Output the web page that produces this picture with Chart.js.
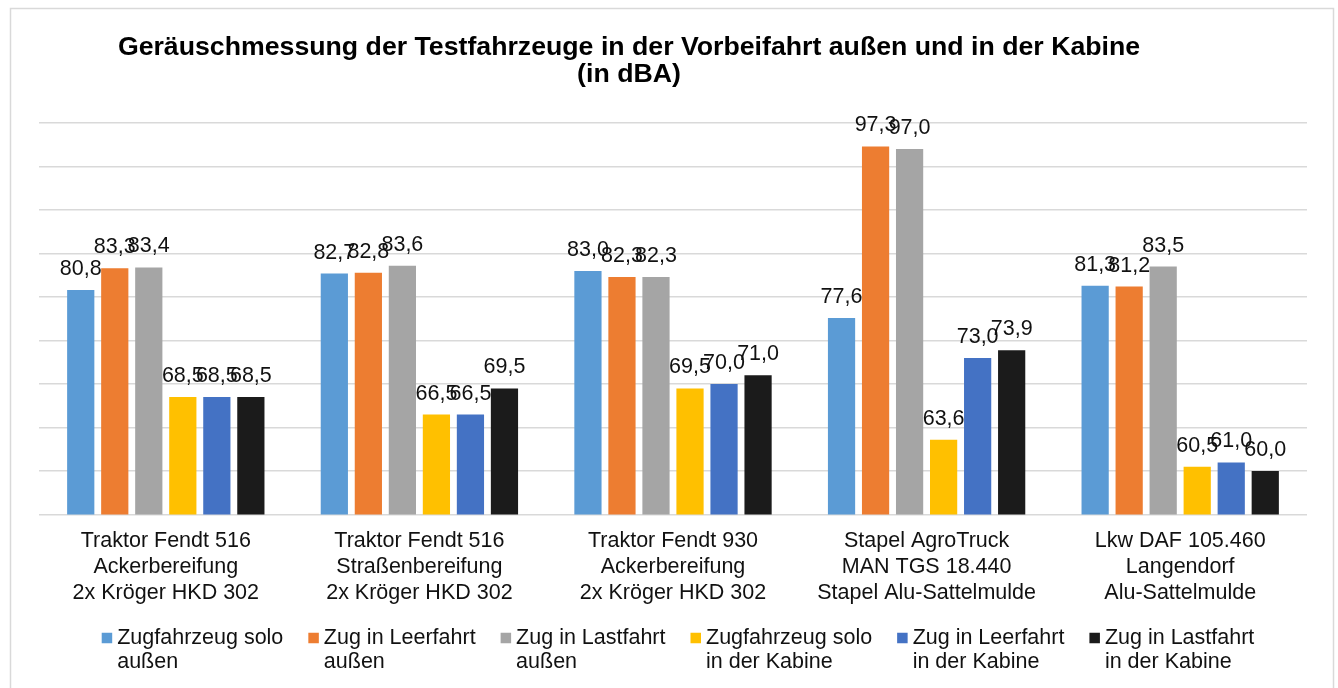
<!DOCTYPE html>
<html>
<head>
<meta charset="utf-8">
<script src="https://cdn.jsdelivr.net/npm/chart.js@4.4.0/dist/chart.umd.min.js"></script>
<style>
html, body { margin: 0; padding: 0; background: #fff; }
#wrap { position: relative; width: 1338px; height: 688px; }
</style>
</head>
<body>
<div id="wrap"><canvas id="myChart"></canvas></div>
<script>
// categories (3-line axis labels)
var categories = [
    ["Traktor Fendt 516", "Ackerbereifung", "2x Kröger HKD 302"],
    ["Traktor Fendt 516", "Straßenbereifung", "2x Kröger HKD 302"],
    ["Traktor Fendt 930", "Ackerbereifung", "2x Kröger HKD 302"],
    ["Stapel AgroTruck", "MAN TGS 18.440", "Stapel Alu-Sattelmulde"],
    ["Lkw DAF 105.460", "Langendorf", "Alu-Sattelmulde"]
];

var seriesNames = [
    ["Zugfahrzeug solo", "außen"],
    ["Zug in Leerfahrt", "außen"],
    ["Zug in Lastfahrt", "außen"],
    ["Zugfahrzeug solo", "in der Kabine"],
    ["Zug in Leerfahrt", "in der Kabine"],
    ["Zug in Lastfahrt", "in der Kabine"]
];

var soloAussen = [80.8, 82.7, 83.0, 77.6, 81.3];
var leerAussen = [83.3, 82.8, 82.3, 97.3, 81.2];
var lastAussen = [83.4, 83.6, 82.3, 97.0, 83.5];
var soloKabine = [68.5, 66.5, 69.5, 63.6, 60.5];
var leerKabine = [68.5, 66.5, 70.0, 73.0, 61.0];
var lastKabine = [68.5, 69.5, 71.0, 73.9, 60.0];

var colors = ['#5B9BD5', '#ED7D31', '#A5A5A5', '#FFC000', '#4472C4', '#1B1B1B'];

var titleLines = ["Geräuschmessung der Testfahrzeuge in der Vorbeifahrt außen und in der Kabine", "(in dBA)"];

var fontFamily = "'Liberation Sans', Arial, sans-serif";
var textColor = '#111';

var allSeries = [soloAussen, leerAussen, lastAussen, soloKabine, leerKabine, lastKabine];
var datasets = allSeries.map(function (vals, i) {
    return {
        label: seriesNames[i].join(' '),
        legendLines: seriesNames[i],
        data: vals,
        backgroundColor: colors[i],
        borderWidth: 0,
        categoryPercentage: 0.805,
        barPercentage: 0.8
    };
});

// outer frame
var framePlugin = {
    id: 'frame',
    beforeDraw: function (chart) {
        var ctx = chart.ctx;
        ctx.save();
        ctx.fillStyle = '#fff';
        ctx.fillRect(0, 0, chart.width, chart.height);
        ctx.strokeStyle = '#d9d9d9';
        ctx.lineWidth = 1.5;
        ctx.strokeRect(10.5, 8.5, 1323, 720);
        ctx.restore();
    }
};

// title, placed like the original
var titlePlugin = {
    id: 'titleText',
    afterDraw: function (chart) {
        var ctx = chart.ctx;
        ctx.save();
        ctx.font = 'bold 26.7px ' + fontFamily;
        ctx.fillStyle = '#000';
        ctx.textAlign = 'center';
        ctx.textBaseline = 'middle';
        ctx.fillText(titleLines[0], 629, 48);
        ctx.fillText(titleLines[1], 629, 75);
        ctx.restore();
    }
};

// value labels above the bars
var valuePlugin = {
    id: 'barValues',
    afterDatasetsDraw: function (chart) {
        var ctx = chart.ctx;
        ctx.save();
        ctx.font = '21.5px ' + fontFamily;
        ctx.fillStyle = textColor;
        ctx.textAlign = 'center';
        ctx.textBaseline = 'alphabetic';
        chart.data.datasets.forEach(function (ds, i) {
            var meta = chart.getDatasetMeta(i);
            meta.data.forEach(function (bar, j) {
                ctx.fillText(ds.data[j].toFixed(1).replace('.', ','), bar.x, bar.y - 15);
            });
        });
        ctx.restore();
    }
};

// legend with two-line entries
var legendPlugin = {
    id: 'twoLineLegend',
    afterDraw: function (chart) {
        var ctx = chart.ctx;
        ctx.save();
        ctx.font = '21.5px ' + fontFamily;
        var box = 10.5, boxGap = 5, itemGap = 25, lineH = 24;
        var items = chart.data.datasets.map(function (ds) {
            var w = Math.max.apply(null, ds.legendLines.map(function (t) { return ctx.measureText(t).width; }));
            return { ds: ds, w: box + boxGap + w };
        });
        var total = items.reduce(function (s, it) { return s + it.w; }, 0) + itemGap * (items.length - 1);
        var x = (chart.chartArea.left + chart.chartArea.right) / 2 + 5 - total / 2;
        var y = 638;
        ctx.textAlign = 'left';
        ctx.textBaseline = 'middle';
        items.forEach(function (it) {
            ctx.fillStyle = it.ds.backgroundColor;
            ctx.fillRect(x, y - box / 2, box, box);
            ctx.fillStyle = textColor;
            it.ds.legendLines.forEach(function (t, k) {
                ctx.fillText(t, x + box + boxGap, y + k * lineH);
            });
            x += it.w + itemGap;
        });
        ctx.restore();
    }
};

var ctx = document.getElementById('myChart');
var myChart = new Chart(ctx, {
    type: 'bar',
    data: {
        labels: categories,
        datasets: datasets
    },
    plugins: [framePlugin, valuePlugin, titlePlugin, legendPlugin],
    options: {
        responsive: true,
        maintainAspectRatio: false,
        animation: false,
        layout: {
            padding: { left: 39, right: 31, top: 123, bottom: 76 }
        },
        plugins: {
            legend: { display: false },
            title: { display: false },
            tooltip: { enabled: false }
        },
        scales: {
            x: {
                grid: { display: false },
                border: { display: false },
                ticks: {
                    color: textColor,
                    font: { family: fontFamily, size: 21.5 },
                    padding: 6,
                    autoSkip: false,
                    maxRotation: 0
                }
            },
            y: {
                min: 55,
                max: 100,
                ticks: { display: false, stepSize: 5 },
                grid: { color: '#d9d9d9', lineWidth: 1.5, drawTicks: false },
                border: { display: false }
            }
        }
    }
});
</script>
</body>
</html>
